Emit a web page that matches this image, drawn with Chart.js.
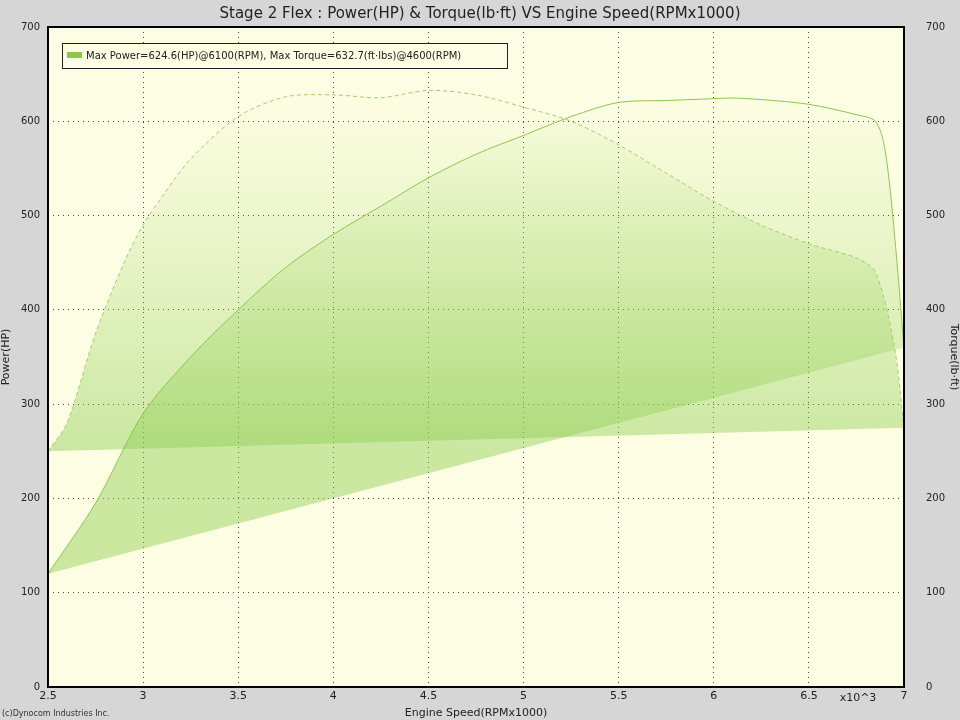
<!DOCTYPE html>
<html>
<head>
<meta charset="utf-8">
<script src="https://cdn.jsdelivr.net/npm/chart.js@4"></script>
<style>
  body { margin: 0; background: #d6d6d6; }
  #wrap { position: relative; width: 960px; height: 720px; }
  #copy { position: absolute; left: 2px; top: 709px; font: 8px "DejaVu Sans"; color: #333; }
</style>
</head>
<body>
<div id="wrap"><canvas id="dyno" width="960" height="720"></canvas><div id="copy">(c)Dynocom Industries Inc.</div></div>
<script>
// 数据 - 转速 (RPMx1000)
const powerRpm = [2.5, 2.75, 3, 3.25, 3.5, 3.75, 4, 4.25, 4.5, 4.75, 5, 5.25, 5.5, 5.75, 6, 6.1, 6.25, 6.5, 6.75, 6.85, 6.9, 6.95, 7];
const powerHp  = [120, 195, 290, 350, 400, 445, 480, 510, 540, 565, 585, 605, 620, 622, 624, 624.6, 623, 618, 607, 600, 570, 480, 360];
const torqueRpm = [2.5, 2.6, 2.75, 2.9, 3, 3.1, 3.25, 3.5, 3.75, 4, 4.25, 4.5, 4.75, 5, 5.25, 5.5, 5.75, 6, 6.25, 6.5, 6.75, 6.85, 6.95, 7];
const torqueLbft = [250, 280, 375, 450, 490, 520, 560, 605, 626, 628, 625, 632.7, 628, 615, 600, 575, 545, 515, 490, 470, 455, 440, 360, 275];
const xTicks = [2.5, 3, 3.5, 4, 4.5, 5, 5.5, 6, 6.5, 7];
const legendText = 'Max Power=624.6(HP)@6100(RPM), Max Torque=632.7(ft·lbs)@4600(RPM)';

Chart.defaults.font.family = 'DejaVu Sans';
Chart.defaults.color = '#222';

const toPts = (xs, ys) => xs.map((x, i) => ({ x: x, y: ys[i] }));
const chord = (xs, ys) => [{ x: xs[0], y: ys[0] }, { x: xs[xs.length - 1], y: ys[ys.length - 1] }];

function grad(ctx) {
    const area = ctx.chart.chartArea;
    if (!area) return 'rgba(140,200,60,0.3)';
    const g = ctx.chart.ctx.createLinearGradient(0, area.top + 60, 0, area.top + 420);
    g.addColorStop(0, 'rgba(160,215,100,0.0)');
    g.addColorStop(1, 'rgba(140,205,80,0.45)');
    return g;
}

// 背景、图例及文字插件
const bgPlugin = {
    id: 'bg',
    beforeDraw(chart) {
        const { ctx, chartArea: a } = chart;
        ctx.save();
        ctx.fillStyle = '#fdfde3';
        ctx.fillRect(a.left, a.top, a.right - a.left, a.bottom - a.top);
        ctx.restore();
    },
    afterDraw(chart) {
        const { ctx, chartArea: a } = chart;
        ctx.save();
        ctx.strokeStyle = '#000';
        ctx.lineWidth = 2;
        ctx.strokeRect(a.left, a.top, a.right - a.left, a.bottom - a.top);
        // 图例
        ctx.fillStyle = '#fdfde3';
        ctx.fillRect(62, 43, 445, 25);
        ctx.lineWidth = 1;
        ctx.strokeStyle = '#222';
        ctx.strokeRect(62.5, 43.5, 445, 25);
        ctx.fillStyle = '#8cc84b';
        ctx.fillRect(67, 52, 15, 6);
        ctx.fillStyle = '#222';
        ctx.font = '10px "DejaVu Sans"';
        ctx.textBaseline = 'middle';
        ctx.fillText(legendText, 86, 56);
        ctx.font = '11px "DejaVu Sans"';
        ctx.textAlign = 'center';
        ctx.textBaseline = 'alphabetic';
        ctx.fillText('x10^3', 858, 701);
        ctx.restore();
    }
};

const fixW = w => function (s) { s.width = w; };
const dotted = { display: false, dash: [1, 4] };

new Chart(document.getElementById('dyno'), {
    type: 'line',
    data: {
        datasets: [
            { label: 'power', data: toPts(powerRpm, powerHp), yAxisID: 'y', borderColor: '#8cc84b', borderWidth: 1,
              backgroundColor: grad, fill: '+1', tension: 0.3, pointRadius: 0 },
            { label: 'pchord', data: chord(powerRpm, powerHp), yAxisID: 'y', borderWidth: 0, pointRadius: 0, fill: false },
            { label: 'torque', data: toPts(torqueRpm, torqueLbft), yAxisID: 'y2', borderColor: '#9fd06a', borderWidth: 1,
              borderDash: [4, 3], backgroundColor: grad, fill: '+1', tension: 0.3, pointRadius: 0 },
            { label: 'tchord', data: chord(torqueRpm, torqueLbft), yAxisID: 'y2', borderWidth: 0, pointRadius: 0, fill: false }
        ]
    },
    options: {
        responsive: false,
        animation: false,
        plugins: {
            title: { display: true, text: 'Stage 2 Flex : Power(HP) & Torque(lb·ft) VS Engine Speed(RPMx1000)',
                     font: { size: 15, weight: 'normal' }, padding: { top: 5, bottom: 4 } },
            legend: { display: false },
            tooltip: { enabled: false }
        },
        scales: {
            x: { type: 'linear', min: 2.5, max: 7,
                 afterBuildTicks: s => { s.ticks = xTicks.map(v => ({ value: v })); },
                 afterFit: s => { s.height = 33; },
                 grid: { color: '#444', drawTicks: false },
                 border: dotted,
                 ticks: { font: { size: 11 }, padding: 3, maxRotation: 0, callback: v => String(v) },
                 title: { display: true, text: 'Engine Speed(RPMx1000)', font: { size: 11 }, padding: 0 } },
            y: { position: 'left', min: 0, max: 700,
                 afterFit: fixW(48),
                 ticks: { stepSize: 100, font: { size: 10 }, padding: 8 },
                 grid: { color: '#444', drawTicks: false },
                 border: dotted,
                 title: { display: true, text: 'Power(HP)', font: { size: 11 }, padding: 0 } },
            y2: { position: 'right', min: 0, max: 700,
                  afterFit: fixW(56),
                  ticks: { stepSize: 100, font: { size: 10 }, padding: 14 },
                  grid: { display: false },
                  border: { display: false },
                  title: { display: true, text: 'Torque(lb·ft)', font: { size: 11 }, padding: 0 } }
        }
    },
    plugins: [bgPlugin]
});
</script>
</body>
</html>
